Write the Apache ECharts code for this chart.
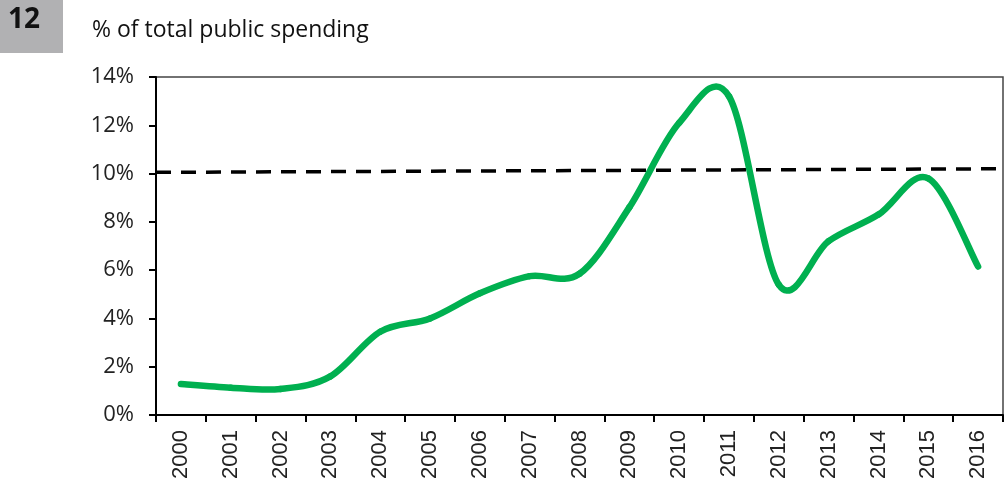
<!DOCTYPE html>
<html>
<head>
<meta charset="utf-8">
<script src="https://cdn.jsdelivr.net/npm/echarts@6/dist/echarts.min.js"></script>
<style>html,body{margin:0;padding:0;background:#fff}#c{width:1008px;height:484px}</style>
</head>
<body>
<div id="c"></div>
<script>
const years = ['2000','2001','2002','2003','2004','2005','2006','2007','2008','2009','2010','2011','2012','2013','2014','2015','2016'];
const shares = [1.28, 1.13, 1.08, 1.6, 3.45, 4.0, 5.04, 5.75, 5.85, 8.6, 12.1, 13.2, 5.4, 7.2, 8.3, 9.8, 6.15];
const targetX = [0, 1];
const targetY = [10.05, 10.2];
const yTicks = [0, 2, 4, 6, 8, 10, 12, 14];

// Spreadsheet-style smoothed line: Catmull-Rom segments through the data points
function renderSmooth(params, api) {
  const i = params.dataIndex;
  const n = shares.length;
  if (i >= n - 1) return null;
  const pt = k => api.coord([k, shares[Math.max(0, Math.min(n - 1, k))]]);
  const p0 = i > 0 ? pt(i - 1) : pt(i);
  const p1 = pt(i);
  const p2 = pt(i + 1);
  const p3 = i + 2 < n ? pt(i + 2) : pt(i + 1);
  return {
    type: 'bezierCurve',
    shape: {
      x1: p1[0], y1: p1[1], x2: p2[0], y2: p2[1],
      cpx1: p1[0] + (p2[0] - p0[0]) / 6, cpy1: p1[1] + (p2[1] - p0[1]) / 6,
      cpx2: p2[0] - (p3[0] - p1[0]) / 6, cpy2: p2[1] - (p3[1] - p1[1]) / 6
    },
    style: {stroke: '#00b050', lineWidth: 6.5, fill: null, lineCap: 'round', lineJoin: 'round'}
  };
}

const chart = echarts.init(document.getElementById('c'), null, {renderer: 'canvas'});
chart.setOption({
  animation: false,
  backgroundColor: '#fff',
  graphic: [
    {type: 'rect', left: 0, top: 0, shape: {width: 63, height: 53}, style: {fill: '#b1b1b3'}},
    {type: 'text', left: 8, top: 6, style: {text: '12', font: 'bold 28px "Open Sans"', fill: '#111'}},
    {type: 'text', left: 92, top: 19, style: {text: '% of total public spending', font: '23px "Open Sans"', fill: '#111'}}
  ],
  grid: {left: 156, right: 5, top: 77, bottom: 69, show: true, borderColor: '#444', borderWidth: 1.5},
  xAxis: [
    {
      type: 'category', data: years, boundaryGap: true,
      axisLine: {lineStyle: {color: '#000', width: 2}},
      axisTick: {show: true, length: 7, lineStyle: {color: '#000', width: 2}},
      axisLabel: {rotate: 90, color: '#222', fontFamily: 'Liberation Sans', fontSize: 22, margin: 15}
    },
    {type: 'value', min: 0, max: 1, show: false}
  ],
  yAxis: {
    type: 'value', min: 0, max: 14, interval: 2,
    axisLine: {show: true, lineStyle: {color: '#000', width: 2}},
    axisTick: {show: true, length: 7, lineStyle: {color: '#000', width: 2}},
    splitLine: {show: false},
    axisLabel: {color: '#222', fontFamily: 'Open Sans', fontSize: 22, margin: 22,
      formatter: v => yTicks.includes(v) ? v + '%' : ''}
  },
  series: [
    {
      type: 'line', xAxisIndex: 1, data: targetX.map((x, i) => [x, targetY[i]]),
      symbol: 'none', lineStyle: {color: '#000', width: 3.5, type: [15, 10]}, z: 3
    },
    {
      type: 'custom', xAxisIndex: 0, yAxisIndex: 0, z: 4,
      data: shares.map((v, i) => [i, v]),
      encode: {x: 0, y: 1},
      renderItem: renderSmooth
    }
  ]
});
</script>
</body>
</html>
